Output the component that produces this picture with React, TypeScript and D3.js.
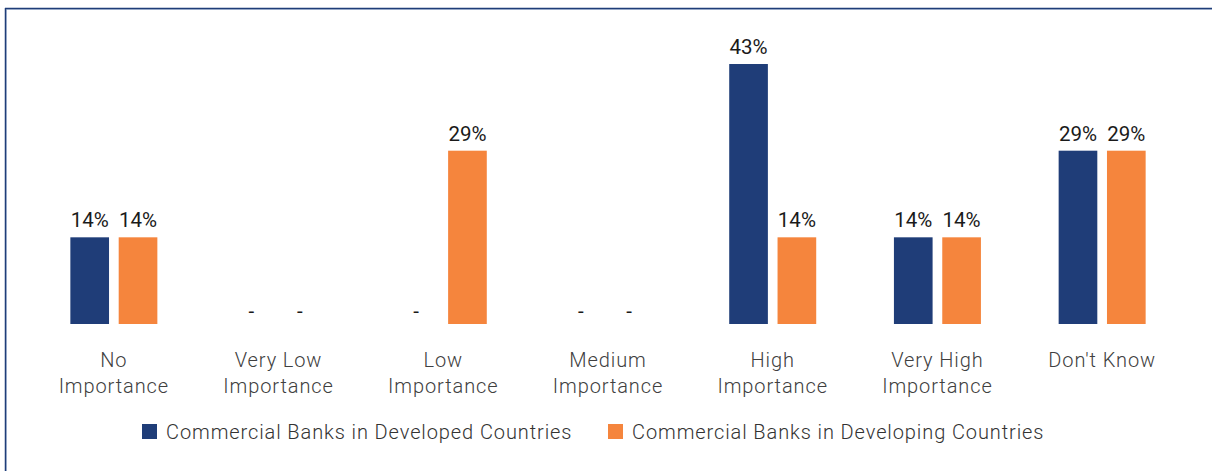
import React from "react";
import * as d3 from "d3";

// Survey shares (share of 7 respondents, in %)
const categories: string[][] = [
  ["No", "Importance"],
  ["Very Low", "Importance"],
  ["Low", "Importance"],
  ["Medium", "Importance"],
  ["High", "Importance"],
  ["Very High", "Importance"],
  ["Don't Know"],
];
const developed: number[] = [14.29, 0, 0, 0, 42.86, 14.29, 28.57];
const developing: number[] = [14.29, 0, 28.57, 0, 14.29, 14.29, 28.57];
const seriesNames = [
  "Commercial Banks in Developed Countries",
  "Commercial Banks in Developing Countries",
];
const colors = ["#1F3D78", "#F5853D"];

const W = 1212;
const H = 471;
const FONT = "Roboto, 'Noto Sans', sans-serif";

export default function App() {
  const x = d3
    .scaleBand<number>()
    .domain(categories.map((_, i) => i))
    .range([31.5, 1184.5]);
  const half = 43.5;
  const inner = d3
    .scaleBand<number>()
    .domain([0, 1])
    .range([x.bandwidth() / 2 - half, x.bandwidth() / 2 + half])
    .paddingInner(0.2);
  const y = d3.scaleLinear().domain([0, 50]).range([324, 20.7]);
  const fmt = (v: number) => (v === 0 ? "-" : `${d3.format(".0f")(v)}%`);
  const series = [developed, developing];

  return (
    <svg
      width={W}
      height={H}
      style={{ position: "absolute", left: 0, top: 0, background: "#fff" }}
      fontFamily={FONT}
    >
      {/* frame: top and left edges */}
      <line x1={5.5} x2={W} y1={9.5} y2={9.5} stroke="#BFCBE0" strokeWidth={1} />
      <line x1={6.5} x2={6.5} y1={9.5} y2={H} stroke="#BFCBE0" strokeWidth={1} />
      <line x1={5} x2={W} y1={8.5} y2={8.5} stroke="#1F3D78" strokeWidth={1.5} />
      <line x1={5.5} x2={5.5} y1={8} y2={H} stroke="#1F3D78" strokeWidth={1.5} />

      {categories.map((lines, i) => {
        const x0 = x(i)!;
        return (
          <g key={i} transform={`translate(${x0},0)`}>
            {series.map((vals, s) => {
              const v = vals[i];
              const bx = inner(s)!;
              const bw = inner.bandwidth();
              return (
                <g key={s}>
                  {v > 0 && (
                    <rect
                      x={bx}
                      y={y(v)}
                      width={bw}
                      height={y(0) - y(v)}
                      fill={colors[s]}
                    />
                  )}
                  <text
                    x={v > 0 ? bx + bw / 2 : bx + bw / 2 - 3}
                    y={v > 0 ? y(v) - 10 : y(0) - 6}
                    textAnchor="middle"
                    fontSize={20.5}
                    fill="#1a1a1a"
                  >
                    {fmt(v)}
                  </text>
                </g>
              );
            })}
            <text
              x={x.bandwidth() / 2}
              textAnchor="middle"
              fontSize={20}
              fontWeight={300}
              letterSpacing={0.9}
              fill="#404040"
            >
              {lines.map((t, k) => (
                <tspan key={k} x={x.bandwidth() / 2} y={366.5 + k * 26}>
                  {t}
                </tspan>
              ))}
            </text>
          </g>
        );
      })}

      {/* legend */}
      <g fontSize={20} fontWeight={300} letterSpacing={0.9} fill="#333">
        <rect x={142} y={424} width={15} height={15} fill={colors[0]} />
        <text x={166} y={439}>
          {seriesNames[0]}
        </text>
        <rect x={608} y={424} width={15} height={15} fill={colors[1]} />
        <text x={632} y={439}>
          {seriesNames[1]}
        </text>
      </g>
    </svg>
  );
}
